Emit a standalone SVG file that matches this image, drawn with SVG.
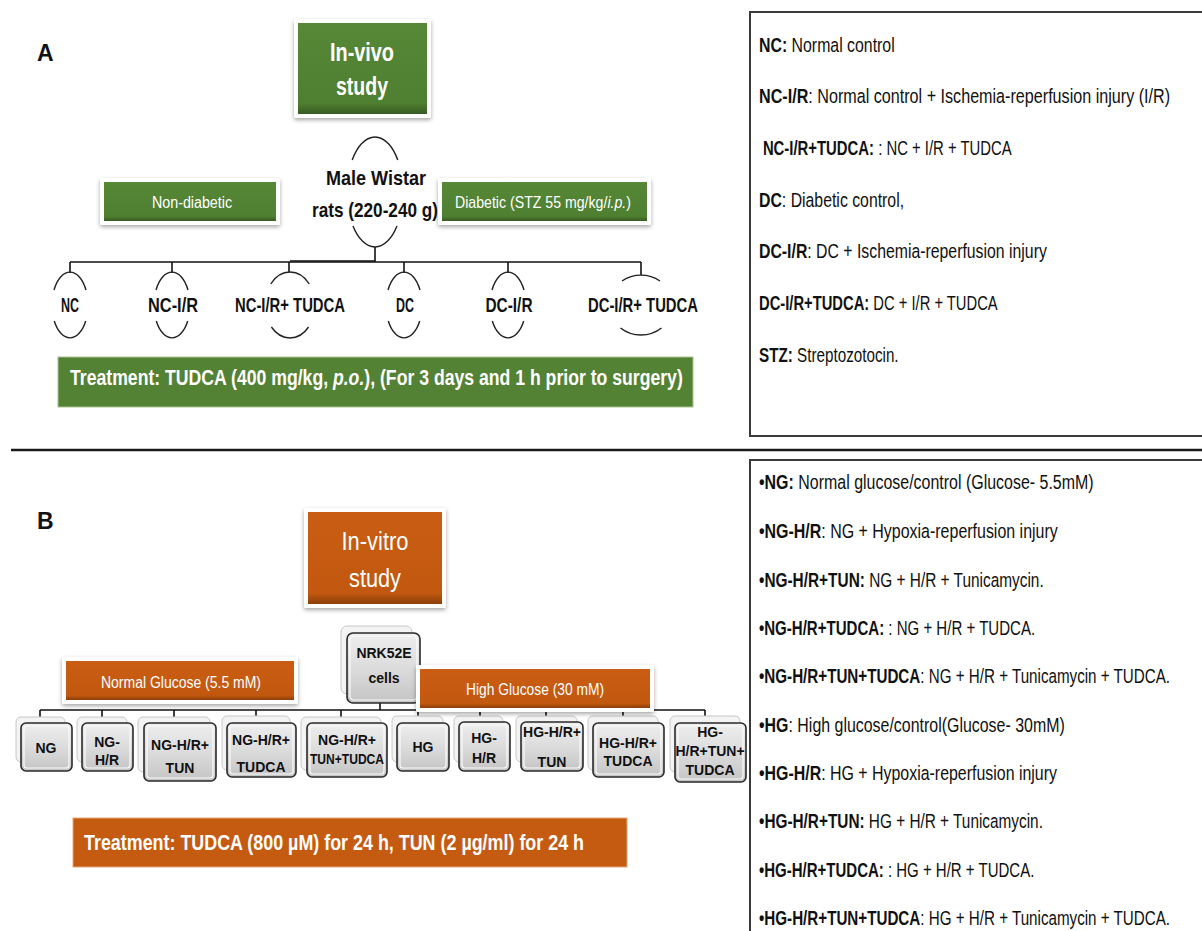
<svg xmlns="http://www.w3.org/2000/svg" width="1202" height="931" viewBox="0 0 1202 931">
<defs>
<filter id="sh" x="-10%" y="-10%" width="120%" height="130%"><feDropShadow dx="0" dy="2" stdDeviation="2" flood-color="#000" flood-opacity="0.35"/></filter>
<linearGradient id="gG" x1="0" y1="0" x2="0" y2="1"><stop offset="0" stop-color="#568837"/><stop offset="0.88" stop-color="#4f7f31"/><stop offset="1" stop-color="#375a22"/></linearGradient>
<linearGradient id="gO" x1="0" y1="0" x2="0" y2="1"><stop offset="0" stop-color="#c95d13"/><stop offset="0.88" stop-color="#c2580f"/><stop offset="1" stop-color="#8a3e0a"/></linearGradient>
<linearGradient id="gS" x1="0" y1="0" x2="0" y2="1"><stop offset="0" stop-color="#eeeeee"/><stop offset="0.5" stop-color="#dcdcdc"/><stop offset="1" stop-color="#c4c4c4"/></linearGradient>
<style>
.f{font-family:"Liberation Sans",Arial,sans-serif}
.b{font-weight:bold}
.w{fill:#fff}
.k{fill:#111}
.ln{stroke:#111;stroke-width:1.6;fill:none}
.arc{stroke:#222;stroke-width:1.4;fill:none}
.frame{fill:#fff;filter:url(#sh)}
.back{fill:#f3f3f3;stroke:#c8c8c8;stroke-width:1}
.front{fill:url(#gS);stroke:#2a2a2a;stroke-width:1.6}
.hl{fill:none;stroke:#fafafa;stroke-width:1.2}
.lg{fill:#fff;stroke:#3a3a3a;stroke-width:2}
.gl{font-size:14px;font-weight:bold;fill:#111;text-anchor:middle}
.leg{font-family:"Liberation Sans",Arial,sans-serif;font-size:19.5px;fill:#111}
</style>
</defs>
<rect width="1202" height="931" fill="#fff"/>

<!-- separator -->
<line x1="11" y1="450" x2="1202" y2="450" stroke="#1a1a1a" stroke-width="2.5"/>

<!-- ===== PANEL A ===== -->
<text class="f b k" x="37" y="61" font-size="23">A</text>

<g id="connectorsA">
<line class="ln" x1="375" y1="247" x2="375" y2="262"/>
<line class="ln" x1="70" y1="262" x2="641" y2="262"/>
<line class="ln" x1="290" y1="261" x2="375" y2="261"/>
<line class="ln" x1="70" y1="262" x2="70" y2="273"/>
<line class="ln" x1="172" y1="262" x2="172" y2="273"/>
<line class="ln" x1="289" y1="262" x2="289" y2="272"/>
<line class="ln" x1="404" y1="262" x2="404" y2="273"/>
<line class="ln" x1="508" y1="262" x2="508" y2="273"/>
<line class="ln" x1="641" y1="262" x2="641" y2="275"/>
</g>

<g id="invivo">
<rect class="frame" x="294" y="19" width="137" height="99" rx="2"/>
<rect x="298" y="23" width="129" height="91" fill="url(#gG)"/>
<text class="f b w" x="362" y="61" font-size="26" text-anchor="middle" textLength="64" lengthAdjust="spacingAndGlyphs">In-vivo</text>
<text class="f b w" x="362" y="95" font-size="26" text-anchor="middle" textLength="52" lengthAdjust="spacingAndGlyphs">study</text>
</g>

<g id="nondiabetic">
<rect class="frame" x="100" y="178" width="180" height="47" rx="2"/>
<rect x="104" y="182" width="172" height="39" fill="url(#gG)"/>
<text class="f w" x="192" y="208" font-size="16" text-anchor="middle" textLength="80" lengthAdjust="spacingAndGlyphs">Non-diabetic</text>
</g>

<g id="diabetic">
<rect class="frame" x="438" y="178" width="213" height="47" rx="2"/>
<rect x="442" y="182" width="205" height="39" fill="url(#gG)"/>
<text class="f w" transform="translate(455,208) scale(0.88,1)" x="0" y="0" font-size="16" textLength="200" lengthAdjust="spacingAndGlyphs">Diabetic (STZ 55 mg/kg/<tspan font-style="italic">i.p.</tspan>)</text>
</g>

<g id="rats">
<path class="arc" d="M352.2,160 A28,55 0 0 1 397.8,160"/>
<path class="arc" d="M353,226 A28,55 0 0 0 397,226"/>
<text class="f b k" x="376" y="185" font-size="21" text-anchor="middle" textLength="100" lengthAdjust="spacingAndGlyphs">Male Wistar</text>
<text class="f b k" x="375" y="217" font-size="21" text-anchor="middle" textLength="126" lengthAdjust="spacingAndGlyphs">rats (220-240 g)</text>
</g>

<g id="NC">
<path class="arc" d="M54,290 A18,33 0 0 1 86,290"/>
<path class="arc" d="M54.3,321 A18,33 0 0 0 85.7,321"/>
<text class="f b k" x="70" y="312" font-size="20" text-anchor="middle" textLength="18" lengthAdjust="spacingAndGlyphs">NC</text>
</g>
<g id="NC-IR">
<path class="arc" d="M156,290 A18,33 0 0 1 188,290"/>
<path class="arc" d="M156.3,321 A18,33 0 0 0 187.7,321"/>
<text class="f b k" x="173" y="312" font-size="20" text-anchor="middle" textLength="50" lengthAdjust="spacingAndGlyphs">NC-I/R</text>
</g>
<g id="NC-IR-TUDCA">
<path class="arc" d="M270.7,284 A25,33 0 0 1 309.3,284"/>
<path class="arc" d="M271.4,327 A25,33 0 0 0 308.6,327"/>
<text class="f b k" x="290" y="312" font-size="20" text-anchor="middle" textLength="110" lengthAdjust="spacingAndGlyphs">NC-I/R+ TUDCA</text>
</g>
<g id="DC">
<path class="arc" d="M388,290 A18,33 0 0 1 420,290"/>
<path class="arc" d="M388.3,321 A18,33 0 0 0 419.7,321"/>
<text class="f b k" x="405" y="312" font-size="20" text-anchor="middle" textLength="18" lengthAdjust="spacingAndGlyphs">DC</text>
</g>
<g id="DC-IR">
<path class="arc" d="M492,290 A18,33 0 0 1 524,290"/>
<path class="arc" d="M492.3,321 A18,33 0 0 0 523.7,321"/>
<text class="f b k" x="509" y="312" font-size="20" text-anchor="middle" textLength="47" lengthAdjust="spacingAndGlyphs">DC-I/R</text>
</g>
<g id="DC-IR-TUDCA">
<path class="arc" d="M622,281 A32,30 0 0 1 660,281"/>
<path class="arc" d="M620.5,328 A32,30 0 0 0 661.5,328"/>
<text class="f b k" x="643" y="312" font-size="20" text-anchor="middle" textLength="110" lengthAdjust="spacingAndGlyphs">DC-I/R+ TUDCA</text>
</g>

<g id="treatmentA">
<rect x="58" y="357" width="635" height="50" fill="#548235" stroke="#a9c48f" stroke-width="1"/>
<text class="f b w" transform="translate(70,385) scale(0.8,1)" x="0" y="0" font-size="22" textLength="766" lengthAdjust="spacingAndGlyphs">Treatment: TUDCA (400 mg/kg, <tspan font-style="italic">p.o.</tspan>), (For 3 days and 1 h prior to surgery)</text>
</g>

<g id="legendA">
<rect class="lg" x="750" y="12" width="470" height="424"/>
<g transform="translate(759,0) scale(0.78,1)">
<text class="leg" x="0" y="52" textLength="174" lengthAdjust="spacingAndGlyphs"><tspan class="b">NC:</tspan> Normal control</text>
<text class="leg" x="0" y="103" textLength="527" lengthAdjust="spacingAndGlyphs"><tspan class="b">NC-I/R</tspan>: Normal control + Ischemia-reperfusion  injury (I/R)</text>
<text class="leg" x="5" y="155" textLength="319" lengthAdjust="spacingAndGlyphs"><tspan class="b">NC-I/R+TUDCA:</tspan> : NC + I/R + TUDCA</text>
<text class="leg" x="0" y="207" textLength="186" lengthAdjust="spacingAndGlyphs"><tspan class="b">DC</tspan>: Diabetic control,</text>
<text class="leg" x="0" y="258" textLength="369" lengthAdjust="spacingAndGlyphs"><tspan class="b">DC-I/R</tspan>: DC + Ischemia-reperfusion  injury</text>
<text class="leg" x="0" y="310" textLength="306" lengthAdjust="spacingAndGlyphs"><tspan class="b">DC-I/R+TUDCA:</tspan> DC + I/R + TUDCA</text>
<text class="leg" x="0" y="362" textLength="179" lengthAdjust="spacingAndGlyphs"><tspan class="b">STZ:</tspan> Streptozotocin.</text>
</g>
</g>

<!-- ===== PANEL B ===== -->
<text class="f b k" x="37" y="529" font-size="23">B</text>

<g id="connectorsB">
<line class="ln" x1="380" y1="700" x2="380" y2="710"/>
<line class="ln" x1="40" y1="710" x2="705" y2="710"/>
<line class="ln" x1="40" y1="710" x2="40" y2="718"/>
<line class="ln" x1="102" y1="710" x2="102" y2="718"/>
<line class="ln" x1="174" y1="710" x2="174" y2="718"/>
<line class="ln" x1="256" y1="710" x2="256" y2="718"/>
<line class="ln" x1="341" y1="710" x2="341" y2="718"/>
<line class="ln" x1="418" y1="710" x2="418" y2="717"/>
<line class="ln" x1="480" y1="710" x2="480" y2="717"/>
<line class="ln" x1="546" y1="710" x2="546" y2="717"/>
<line class="ln" x1="623" y1="710" x2="623" y2="717"/>
<line class="ln" x1="705" y1="710" x2="705" y2="717"/>
</g>

<g id="invitro">
<rect class="frame" x="304" y="508" width="142" height="100" rx="2"/>
<rect x="308" y="512" width="134" height="92" fill="url(#gO)"/>
<text class="f w" x="375" y="550" font-size="26" text-anchor="middle" textLength="67" lengthAdjust="spacingAndGlyphs">In-vitro</text>
<text class="f w" x="375" y="587" font-size="26" text-anchor="middle" textLength="52" lengthAdjust="spacingAndGlyphs">study</text>
</g>

<g id="nrk52e">
<rect class="back" x="341" y="626" width="71" height="68" rx="6"/>
<rect class="front" x="347" y="633" width="73" height="70" rx="6"/>
<rect class="hl" x="350" y="636" width="67" height="64" rx="4"/>
<text class="f gl" x="384" y="658" font-size="15">NRK52E</text>
<text class="f gl" x="384" y="683" font-size="15">cells</text>
</g>

<g id="normalglucose">
<rect class="frame" x="62" y="657" width="236" height="47" rx="2"/>
<rect x="66" y="661" width="228" height="39" fill="url(#gO)"/>
<text class="f w" x="181" y="688" font-size="16" text-anchor="middle" textLength="160" lengthAdjust="spacingAndGlyphs">Normal Glucose (5.5 mM)</text>
</g>

<g id="NG">
<rect class="back" x="16" y="717" width="49" height="45" rx="5"/>
<rect class="front" x="21" y="723" width="51" height="48" rx="5"/>
<rect class="hl" x="24" y="726" width="45" height="42" rx="3"/>
<text class="f gl" x="46" y="753">NG</text>
</g>
<g id="NG-HR">
<rect class="back" x="77" y="717" width="50" height="45" rx="5"/>
<rect class="front" x="82" y="723" width="51" height="48" rx="5"/>
<rect class="hl" x="85" y="726" width="45" height="42" rx="3"/>
<text class="f gl" x="107" y="747">NG-</text>
<text class="f gl" x="107" y="765">H/R</text>
</g>
<g id="NG-HR-TUN">
<rect class="back" x="138" y="717" width="72" height="55" rx="5"/>
<rect class="front" x="144" y="723" width="72" height="58" rx="5"/>
<rect class="hl" x="147" y="726" width="66" height="52" rx="3"/>
<text class="f gl" x="180" y="750">NG-H/R+</text>
<text class="f gl" x="180" y="773">TUN</text>
</g>
<g id="NG-HR-TUDCA">
<rect class="back" x="222" y="716" width="68" height="54" rx="5"/>
<rect class="front" x="227" y="723" width="69" height="54" rx="5"/>
<rect class="hl" x="230" y="726" width="63" height="48" rx="3"/>
<text class="f gl" x="261" y="745">NG-H/R+</text>
<text class="f gl" x="261" y="772">TUDCA</text>
</g>
<g id="NG-HR-TUN-TUDCA">
<rect class="back" x="301" y="717" width="80" height="53" rx="5"/>
<rect class="front" x="307" y="723" width="80" height="54" rx="5"/>
<rect class="hl" x="310" y="726" width="74" height="48" rx="3"/>
<text class="f gl" x="347" y="745">NG-H/R+</text>
<text class="f gl" x="347" y="764" textLength="74" lengthAdjust="spacingAndGlyphs">TUN+TUDCA</text>
</g>
<g id="HG">
<rect class="back" x="392" y="716" width="51" height="46" rx="5"/>
<rect class="front" x="397" y="723" width="52" height="48" rx="5"/>
<rect class="hl" x="400" y="726" width="46" height="42" rx="3"/>
<text class="f gl" x="423" y="752">HG</text>
</g>
<g id="HG-HR">
<rect class="back" x="454" y="716" width="49" height="46" rx="5"/>
<rect class="front" x="459" y="722" width="51" height="49" rx="5"/>
<rect class="hl" x="462" y="725" width="45" height="43" rx="3"/>
<text class="f gl" x="484" y="743">HG-</text>
<text class="f gl" x="484" y="763">H/R</text>
</g>
<g id="HG-HR-TUN">
<rect class="back" x="516" y="716" width="61" height="46" rx="5"/>
<rect class="front" x="521" y="722" width="62" height="49" rx="5"/>
<rect class="hl" x="524" y="725" width="56" height="43" rx="3"/>
<text class="f gl" x="552" y="737">HG-H/R+</text>
<text class="f gl" x="552" y="767">TUN</text>
</g>
<g id="HG-HR-TUDCA">
<rect class="back" x="588" y="716" width="70" height="54" rx="5"/>
<rect class="front" x="593" y="723" width="71" height="54" rx="5"/>
<rect class="hl" x="596" y="726" width="65" height="48" rx="3"/>
<text class="f gl" x="628" y="748">HG-H/R+</text>
<text class="f gl" x="628" y="766">TUDCA</text>
</g>
<g id="HG-HR-TUN-TUDCA">
<rect class="back" x="670" y="716" width="70" height="56" rx="5"/>
<rect class="front" x="675" y="723" width="71" height="59" rx="5"/>
<rect class="hl" x="678" y="726" width="65" height="53" rx="3"/>
<text class="f gl" x="710" y="737">HG-</text>
<text class="f gl" x="710" y="756">H/R+TUN+</text>
<text class="f gl" x="710" y="775">TUDCA</text>
</g>

<g id="highglucose">
<rect class="frame" x="416" y="665" width="238" height="47" rx="2"/>
<rect x="420" y="669" width="230" height="39" fill="url(#gO)"/>
<text class="f w" x="535" y="695" font-size="16" text-anchor="middle" textLength="138" lengthAdjust="spacingAndGlyphs">High Glucose (30 mM)</text>
</g>

<g id="treatmentB">
<rect x="73" y="818" width="554" height="49" fill="#c55a11" stroke="#e8a77a" stroke-width="1"/>
<text class="f b w" x="84" y="850" font-size="22" textLength="500" lengthAdjust="spacingAndGlyphs">Treatment: TUDCA (800 µM) for 24 h, TUN (2 µg/ml) for 24 h</text>
</g>

<g id="legendB">
<rect class="lg" x="750" y="460" width="470" height="490"/>
<g transform="translate(759,0) scale(0.78,1)">
<text class="leg" x="0" y="489" textLength="429" lengthAdjust="spacingAndGlyphs"><tspan class="b">•NG:</tspan> Normal glucose/control  (Glucose- 5.5mM)</text>
<text class="leg" x="0" y="538" textLength="383" lengthAdjust="spacingAndGlyphs"><tspan class="b">•NG-H/R</tspan>: NG + Hypoxia-reperfusion  injury</text>
<text class="leg" x="0" y="587" textLength="365" lengthAdjust="spacingAndGlyphs"><tspan class="b">•NG-H/R+TUN:</tspan> NG + H/R + Tunicamycin.</text>
<text class="leg" x="0" y="635" textLength="354" lengthAdjust="spacingAndGlyphs"><tspan class="b">•NG-H/R+TUDCA:</tspan> : NG + H/R + TUDCA.</text>
<text class="leg" x="0" y="683" textLength="527" lengthAdjust="spacingAndGlyphs"><tspan class="b">•NG-H/R+TUN+TUDCA</tspan>:  NG + H/R + Tunicamycin + TUDCA.</text>
<text class="leg" x="0" y="732" textLength="392" lengthAdjust="spacingAndGlyphs"><tspan class="b">•HG</tspan>: High glucose/control(Glucose-  30mM)</text>
<text class="leg" x="0" y="780" textLength="382" lengthAdjust="spacingAndGlyphs"><tspan class="b">•HG-H/R</tspan>: HG + Hypoxia-reperfusion  injury</text>
<text class="leg" x="0" y="828" textLength="364" lengthAdjust="spacingAndGlyphs"><tspan class="b">•HG-H/R+TUN:</tspan> HG + H/R + Tunicamycin.</text>
<text class="leg" x="0" y="877" textLength="353" lengthAdjust="spacingAndGlyphs"><tspan class="b">•HG-H/R+TUDCA:</tspan> : HG + H/R + TUDCA.</text>
<text class="leg" x="0" y="925" textLength="527" lengthAdjust="spacingAndGlyphs"><tspan class="b">•HG-H/R+TUN+TUDCA</tspan>:  HG + H/R + Tunicamycin + TUDCA.</text>
</g>
</g>
</svg>
